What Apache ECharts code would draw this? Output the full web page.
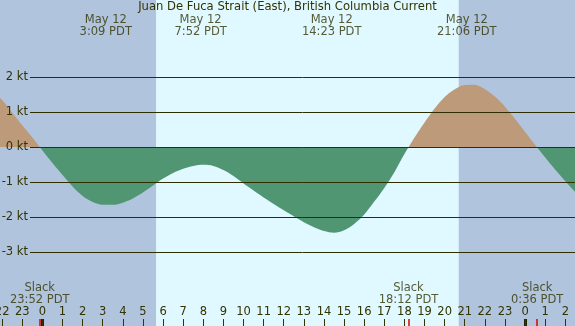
<!DOCTYPE html>
<html>
<head>
    <meta charset="UTF-8">
    <title>Juan De Fuca Strait (East) current</title>
    <script src="https://cdn.jsdelivr.net/npm/echarts@6/dist/echarts.min.js"></script>
    <style>
        body { margin: 0; }
    </style>
</head>
<body>
    <div id="main" style="width: 575px; height: 326px;"></div>
    <script>
        // hours from May 12 00:00 PDT, current speed in knots
        var hours = [-2.5, -2, -1.5, -1, -0.5, 0, 0.5, 1, 1.5, 2, 2.5, 3, 3.5, 4, 4.5, 5, 5.5,
            6, 6.5, 7, 7.5, 8, 8.5, 9, 9.5, 10, 10.5, 11, 11.5, 12, 12.5, 13, 13.5, 14, 14.5, 15, 15.5,
            16, 16.5, 17, 17.5, 18, 18.5, 19, 19.5, 20, 20.5, 21, 21.5, 22, 22.5, 23, 23.5,
            24, 24.5, 25, 25.5, 26, 26.5, 27];
        var speeds = [1.62, 1.34, 0.98, 0.62, 0.27, -0.1, -0.46, -0.8, -1.13, -1.4, -1.57, -1.65, -1.65, -1.59, -1.47, -1.3, -1.1,
            -0.9, -0.74, -0.62, -0.54, -0.51, -0.54, -0.66, -0.83, -1.04, -1.24, -1.44, -1.63, -1.81, -1.98, -2.15, -2.29, -2.4, -2.45, -2.38, -2.2,
            -1.93, -1.56, -1.17, -0.72, -0.2, 0.27, 0.7, 1.1, 1.43, 1.65, 1.77, 1.78, 1.65, 1.44, 1.15, 0.8,
            0.43, 0.06, -0.3, -0.65, -0.98, -1.29, -1.55];

        var extremeTimes = [3.15, 7.867, 14.383, 21.1];
        var extremeLabels = ['3:09 PDT', '7:52 PDT', '14:23 PDT', '21:06 PDT'];
        var slackTimes = [-0.133, 18.2, 24.6];
        var slackLabels = ['23:52 PDT', '18:12 PDT', '0:36 PDT'];
        var midnights = [0, 24];
        var sunrise = 5.65, sunset = 20.7;
        var ktLines = [2, 1, 0, -1, -2, -3];
        var dateText = 'May 12';

        var textColor = '#333300';
        var font = 'DejaVu Sans';

        var myChart = echarts.init(document.getElementById('main'));

        var xRange = { min: -2.108, max: 26.48 };

        var option = {
            backgroundColor: '#b0c4de',
            animation: false,
            title: {
                text: 'Juan De Fuca Strait (East), British Columbia Current',
                left: 'center',
                top: 0,
                padding: 0,
                textStyle: { color: textColor, fontSize: 11.6, fontWeight: 'normal', fontFamily: font, lineHeight: 14 }
            },
            grid: [
                { left: 0, right: 0, top: 0, bottom: 0, outerBoundsMode: 'none' },        // background + texts
                { left: 0, right: 0, top: 7, bottom: 4, outerBoundsMode: 'none' },        // current area
                { left: 30, right: 0, top: 7, bottom: 4, outerBoundsMode: 'none' },       // kt lines
                { left: 2.18, right: 9.7, top: 319, bottom: 0, outerBoundsMode: 'none' }  // hour ticks
            ],
            xAxis: [
                { gridIndex: 0, type: 'value', min: xRange.min, max: xRange.max, show: false },
                { gridIndex: 1, type: 'value', min: xRange.min, max: xRange.max, show: false },
                { gridIndex: 2, type: 'value', min: 0, max: 1, show: false },
                {
                    gridIndex: 3, type: 'value', min: -2, max: 26, interval: 1, z: 10,
                    axisLine: { show: false },
                    splitLine: { show: false },
                    axisTick: { show: true, inside: true, length: 7, lineStyle: { color: textColor, width: 1 } },
                    axisLabel: {
                        inside: true, margin: 8, color: textColor, fontSize: 11.5, fontFamily: font,
                        showMinLabel: true, showMaxLabel: true, hideOverlap: false,
                        formatter: function (v) { return String(((v % 24) + 24) % 24); }
                    }
                }
            ],
            yAxis: [
                { gridIndex: 0, type: 'value', min: 0, max: 326, inverse: true, show: false },
                { gridIndex: 1, type: 'value', min: -5, max: 4, show: false },
                {
                    gridIndex: 2, type: 'value', min: -5, max: 4, interval: 1, z: 10,
                    axisLine: { show: false }, axisTick: { show: false }, splitLine: { show: false },
                    axisLabel: {
                        margin: 2, color: textColor, fontSize: 11.5, fontFamily: font,
                        formatter: function (v) { return (v >= -3 && v <= 2) ? v + ' kt' : ''; }
                    }
                },
                { gridIndex: 3, type: 'value', min: 0, max: 1, show: false }
            ],
            visualMap: {
                show: false,
                type: 'piecewise',
                seriesIndex: 2,
                dimension: 1,
                pieces: [
                    { min: -10, max: 0, color: '#519673' },
                    { min: 0, max: 10, color: '#bd9a79' }
                ]
            },
            series: [
                {
                    // daylight band
                    type: 'line', xAxisIndex: 0, yAxisIndex: 0, z: 0,
                    data: [], silent: true,
                    markArea: {
                        silent: true,
                        itemStyle: { color: '#e0f8ff', opacity: 1 },
                        data: [[{ xAxis: sunrise }, { xAxis: sunset }]]
                    }
                },
                {
                    // knot lines
                    type: 'line', xAxisIndex: 2, yAxisIndex: 2, z: 1,
                    data: [], silent: true,
                    markLine: {
                        silent: true, symbol: 'none', label: { show: false },
                        lineStyle: { color: '#2e2e00', width: 1, type: 'solid' },
                        data: ktLines.map(function (v) { return { yAxis: v }; })
                    }
                },
                {
                    type: 'line', xAxisIndex: 1, yAxisIndex: 1, z: 2,
                    smooth: 0.3,
                    showSymbol: false,
                    lineStyle: { width: 0 },
                    areaStyle: { opacity: 1, origin: 0 },
                    data: hours.map(function (h, i) { return [h, speeds[i]]; })
                },
                {
                    // max / min labels at the top
                    type: 'scatter', xAxisIndex: 0, yAxisIndex: 0, z: 5,
                    symbolSize: 0,
                    label: {
                        show: true, position: 'inside', color: textColor, fontSize: 11.5, fontFamily: font,
                        lineHeight: 12, align: 'center',
                        formatter: function (p) { return dateText + '\n' + extremeLabels[p.dataIndex]; }
                    },
                    data: extremeTimes.map(function (t) { return [t, 26]; })
                },
                {
                    // slack labels at the bottom
                    type: 'scatter', xAxisIndex: 0, yAxisIndex: 0, z: 5,
                    symbolSize: 0,
                    label: {
                        show: true, position: 'inside', color: textColor, fontSize: 11.5, fontFamily: font,
                        lineHeight: 12.5, align: 'center',
                        formatter: function (p) { return 'Slack\n' + slackLabels[p.dataIndex]; }
                    },
                    data: slackTimes.map(function (t) { return [t, 294]; })
                },
                {
                    // midnight + slack tick marks
                    type: 'line', xAxisIndex: 3, yAxisIndex: 3, z: 11,
                    data: [], silent: true,
                    markLine: {
                        silent: true, symbol: 'none', label: { show: false },
                        data: midnights.map(function (t) {
                            return { xAxis: t, lineStyle: { color: '#222200', width: 3, type: 'solid' } };
                        }).concat(slackTimes.map(function (t) {
                            return { xAxis: t, lineStyle: { color: '#dd0000', width: 1.5, type: 'solid' } };
                        }))
                    }
                }
            ]
        };

        myChart.setOption(option);
    </script>
</body>
</html>
